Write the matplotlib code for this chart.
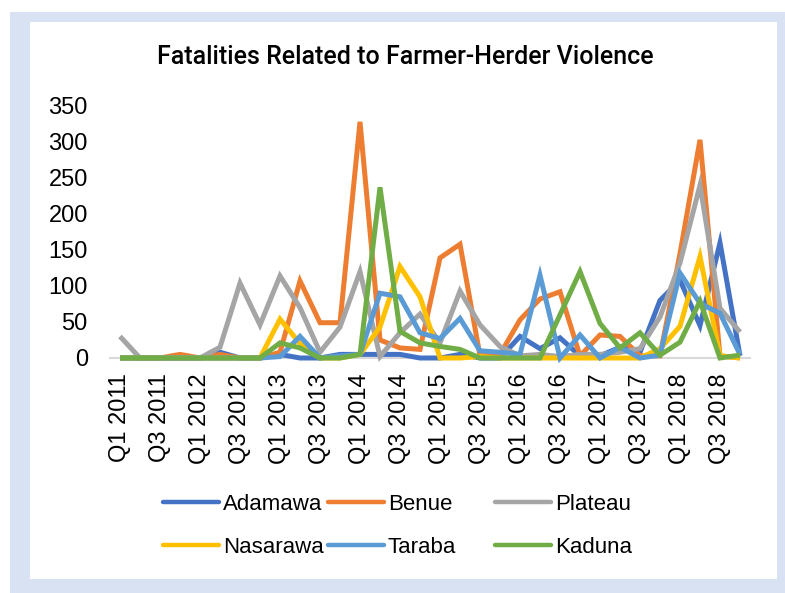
import matplotlib
matplotlib.use("Agg")
import matplotlib.pyplot as plt
from matplotlib.patches import Rectangle
from matplotlib.lines import Line2D

plt.rcParams['font.family'] = ['Liberation Sans', 'DejaVu Sans']

quarters = [f"Q{q} {y}" for y in range(2011, 2019) for q in range(1, 5)]

adamawa = [0, 0, 0, 0, 0, 8, 0, 0, 5, 0, 0, 5, 5, 5, 5, 0,
           0, 5, 0, 0, 30, 13, 28, 3, 3, 15, 8, 80, 108, 45, 160, 3]
benue = [0, 0, 0, 5, 0, 5, 0, 0, 8, 107, 49, 49, 328, 25, 14, 12,
         139, 158, 3, 5, 53, 82, 92, 3, 32, 30, 3, 3, 145, 303, 3, 0]
plateau = [30, 0, 0, 0, 0, 15, 104, 46, 114, 70, 8, 43, 120, 2, 35, 61,
           21, 93, 46, 16, 3, 5, 2, 5, 5, 8, 13, 57, 132, 240, 69, 36]
nasarawa = [0, 0, 0, 0, 0, 0, 0, 0, 54, 20, 0, 0, 5, 43, 127, 85,
            0, 0, 2, 0, 0, 0, 0, 0, 0, 0, 0, 13, 44, 141, 3, 0]
taraba = [0, 0, 0, 0, 0, 0, 0, 0, 2, 30, 0, 3, 5, 90, 85, 35,
          27, 55, 10, 8, 5, 115, 0, 32, 0, 15, 0, 4, 118, 76, 62, 5]
kaduna = [0, 0, 0, 0, 0, 0, 0, 0, 21, 14, 0, 0, 5, 237, 37, 21,
          16, 12, 0, 0, 0, 0, 60, 120, 48, 14, 35, 4, 22, 79, 0, 4]

series = [("Adamawa", adamawa, "#4472C4"),
          ("Benue", benue, "#ED7D31"),
          ("Plateau", plateau, "#A5A5A5"),
          ("Nasarawa", nasarawa, "#FFC000"),
          ("Taraba", taraba, "#5B9BD5"),
          ("Kaduna", kaduna, "#70AD47")]

W, H = 785, 593
fig = plt.figure(figsize=(W / 100, H / 100), dpi=100)
fig.patch.set_facecolor("white")

def px_rect(x0, y0, x1, y1, color):
    fig.patches.append(Rectangle((x0 / W, 1 - y1 / H), (x1 - x0) / W, (y1 - y0) / H,
                                 transform=fig.transFigure, facecolor=color,
                                 edgecolor="none", zorder=-10))

px_rect(10, 12, 785, 593, "#D9E2F3")
px_rect(30, 22, 777, 579, "white")

ax_l, ax_r, ax_t, ax_b = 110, 750, 106, 358
ax = fig.add_axes([ax_l / W, 1 - ax_b / H, (ax_r - ax_l) / W, (ax_b - ax_t) / H])
ax.set_facecolor("none")

x = list(range(len(quarters)))
handles = {}
for name, vals, col in series:
    ax.plot(x, vals, color=col, lw=3.6, solid_joinstyle="miter",
            solid_capstyle="butt", clip_on=False, zorder=3)
    handles[name] = Line2D([], [], color=col, lw=3.2, solid_capstyle="round")

ax.set_xlim(-0.5, len(quarters) - 0.5)
ax.set_ylim(0, 350)
ax.set_yticks(range(0, 351, 50))
ax.set_xticks(x[::2])
ax.set_xticklabels(quarters[::2], rotation=90)
for s in ["top", "right", "left"]:
    ax.spines[s].set_visible(False)
ax.spines["bottom"].set_color("#D9D9D9")
ax.spines["bottom"].set_linewidth(1.5)
ax.spines["bottom"].set_zorder(1)
ax.tick_params(axis="both", length=0, labelsize=17, colors="black")
ax.tick_params(axis="y", pad=16)
ax.tick_params(axis="x", pad=11)

fig.text(405 / W, 1 - 57 / H, "Fatalities Related to Farmer-Herder Violence",
         ha="center", va="center", fontsize=18, family=["Roboto", "Liberation Sans"],
         fontweight="medium")

cols = [(163, ["Adamawa", "Nasarawa"]), (328, ["Benue", "Taraba"]), (495, ["Plateau", "Kaduna"])]
for xpx, names in cols:
    fig.legend([handles[n] for n in names], names, loc="upper left",
               bbox_to_anchor=(xpx / W, 1 - 494 / H), frameon=False,
               fontsize=16, handlelength=2.5, handletextpad=0.2,
               labelspacing=0.98, borderpad=0, borderaxespad=0)

fig.savefig("out.png", dpi=100)
